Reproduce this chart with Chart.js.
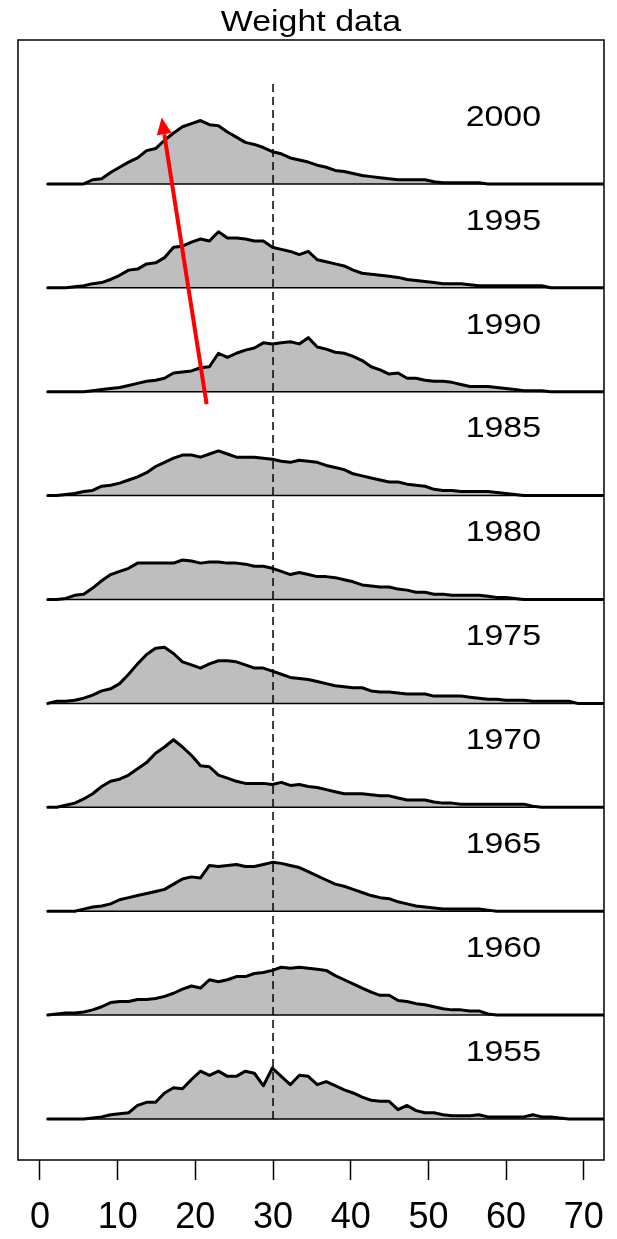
<!DOCTYPE html>
<html>
<head>
<meta charset="utf-8">
<title>Weight data</title>
<script src="https://cdn.jsdelivr.net/npm/chart.js@4.4.1/dist/chart.umd.min.js"></script>
<style>
  html, body { margin: 0; padding: 0; background: #fff; }
  #wrap { width: 617px; height: 1239px; }
</style>
</head>
<body>
<div id="wrap"><canvas id="ridgeChart" width="617" height="1239"></canvas></div>
<script>
// weight grid (x positions of the density estimate)
const weightGrid = [
  1.00, 2.16, 3.31, 4.47, 5.63, 6.78, 7.94, 9.09, 10.25, 11.41,
  12.56, 13.72, 14.88, 16.03, 17.19, 18.34, 19.50, 20.66, 21.81, 22.97,
  24.13, 25.28, 26.44, 27.59, 28.75, 29.91, 31.06, 32.22, 33.38, 34.53,
  35.69, 36.84, 38.00, 39.16, 40.31, 41.47, 42.63, 43.78, 44.94, 46.09,
  47.25, 48.41, 49.56, 50.72, 51.88, 53.03, 54.19, 55.34, 56.50, 57.66,
  58.81, 59.97, 61.13, 62.28, 63.44, 64.59, 65.75, 66.91, 68.06, 69.22,
  70.38, 71.53, 72.69, 73.84
];

// years, bottom to top
const years = [1955, 1960, 1965, 1970, 1975, 1980, 1985, 1990, 1995, 2000];

// density per year (per mille)
const dens1955 = [0,0,0,0,0,1,2,4,5,6, 13,16,16,25,30,29,38,46,42,46, 41,41,46,44,32,49,41,33,42,41,
  33,36,32,28,25,21,18,17,17,9, 13,8,6,6,4,3,3,3,4, 2,2,2,2,2,4,2,2,1,0,0,0,0,0,0];
const dens1960 = [0,1,2,2,3,5,8,12,13,13, 15,15,16,18,21,25,28,26,34,32, 34,37,37,40,41,43,46,45,46,45,
  44,43,38,34,30,26,22,19,19,14, 13,11,10,8,6,5,5,4,4, 1,0,0,0,0,0,0,0,0,0,0,0,0,0,0];
const dens1965 = [0,0,0,0,2,4,5,7,11,13, 15,17,19,21,26,31,33,32,44,43, 44,45,43,43,45,47,46,44,42,38,
  34,30,26,24,21,18,15,13,12,9, 7,5,4,3,2,2,2,2,2, 1,0,0,0,0,0,0,0,0,0,0,0,0,0,0];
const dens1970 = [0,0,2,4,8,13,20,25,27,31, 37,43,52,58,65,58,50,40,39,31, 28,25,23,23,23,22,24,21,22,20,
  19,17,15,13,13,13,12,11,11,9, 7,7,7,5,4,4,3,3,3, 3,3,3,3,3,1,0,0,0,0,0,0,0,0,0];
const dens1975 = [0,2,2,3,5,8,12,14,19,28, 38,47,53,54,48,40,37,34,38,41, 41,40,37,34,34,31,28,25,24,23,
  21,19,17,16,15,15,12,11,11,10, 9,9,9,7,7,7,7,6,5, 4,4,3,3,3,2,2,2,2,2,0,0,0,0,0];
const dens1980 = [0,0,1,4,5,11,18,24,27,30, 35,35,35,35,35,38,37,35,36,36, 35,35,34,32,32,30,27,24,26,24,
  22,22,21,19,17,14,13,12,12,10, 9,7,7,5,5,4,4,4,4, 3,2,2,1,0,0,0,0,0,0,0,0,0,0,0];
const dens1985 = [0,0,1,2,4,5,9,10,12,15, 18,22,28,32,36,39,39,37,40,43, 40,37,37,37,36,35,33,32,34,33,
  32,29,27,25,21,19,17,15,13,13, 11,10,9,6,5,5,4,4,4, 4,3,2,1,0,0,0,0,0,0,0,0,0,0,0];
const dens1990 = [0,0,0,0,0,1,2,3,4,6, 8,10,11,13,18,19,20,23,24,37, 33,37,40,42,47,46,47,48,46,52,
  43,41,38,37,34,30,24,21,17,18, 13,13,11,10,10,9,7,5,5, 5,4,3,2,1,1,1,0,0,0,0,0,0,0,0];
const dens1995 = [0,0,0,1,2,4,5,8,12,17, 18,23,24,29,39,40,44,47,45,54, 48,48,47,45,45,39,37,35,32,35,
  27,25,23,21,17,14,13,12,11,10, 8,7,6,5,4,4,4,3,2, 2,2,2,2,2,2,2,0,0,0,0,0,0,0,0];
const dens2000 = [0,0,0,0,0,4,5,11,16,21, 25,32,34,42,49,55,58,61,57,56, 50,45,40,38,35,31,29,25,23,21,
  18,16,13,12,10,8,7,6,5,4, 4,4,4,2,1,1,1,1,1, 0,0,0,0,0,0,0,0,0,0,0,0,0,0,0];

const densities = [dens1955, dens1960, dens1965, dens1970, dens1975, dens1980, dens1985, dens1990, dens1995, dens2000];

// axis ticks
const xTicks = [0, 10, 20, 30, 40, 50, 60, 70];

// reference weight and trend arrow (weight, row)
const refWeight = 30;
const arrowFrom = [21.45, 6.88];
const arrowTo = [15.66, 9.64];

const ROW = 100;   // per mille of density that fills one row
const FONT = '"Liberation Sans", Arial, Helvetica, sans-serif';

const datasets = [];
years.forEach((yr, k) => {
  datasets.push({
    label: String(yr),
    data: weightGrid.map((w, i) => ({ x: w, y: k + densities[k][i] / ROW })),
    borderColor: '#000',
    borderWidth: 3,
    borderJoinStyle: 'round',
    borderCapStyle: 'round',
    backgroundColor: '#BEBEBE',
    fill: { value: k },
    pointRadius: 0,
    tension: 0,
    order: 3
  });
  datasets.push({
    label: 'base ' + yr,
    data: [{ x: weightGrid[0], y: k }, { x: weightGrid[weightGrid.length - 1], y: k }],
    borderColor: '#000',
    borderWidth: 1.5,
    pointRadius: 0,
    fill: false,
    order: 2
  });
});
datasets.push({
  label: 'reference',
  data: [{ x: refWeight, y: 0 }, { x: refWeight, y: years.length }],
  borderColor: '#000',
  borderWidth: 1.5,
  borderDash: [8, 5],
  pointRadius: 0,
  fill: false,
  order: 1
});

function stretchedText(ctx, text, px, py, align) {
  ctx.save();
  ctx.translate(px, py);
  ctx.scale(1.13, 1);
  ctx.textAlign = align;
  ctx.textBaseline = 'alphabetic';
  ctx.fillText(text, 0, 0);
  ctx.restore();
}

const overlay = {
  id: 'overlay',
  beforeDraw(chart) {
    const ctx = chart.ctx;
    ctx.save();
    ctx.fillStyle = '#fff';
    ctx.fillRect(0, 0, chart.width, chart.height);
    ctx.restore();
  },
  afterDatasetsDraw(chart) {
    const { ctx, chartArea: a, scales: { x, y } } = chart;

    // trend arrow
    const x0 = x.getPixelForValue(arrowFrom[0]), y0 = y.getPixelForValue(arrowFrom[1]);
    const x1 = x.getPixelForValue(arrowTo[0]), y1 = y.getPixelForValue(arrowTo[1]);
    const ang = Math.atan2(y1 - y0, x1 - x0);
    const headLen = 17, headHalf = 7.5;
    const bx = x1 - headLen * Math.cos(ang), by = y1 - headLen * Math.sin(ang);
    ctx.save();
    ctx.strokeStyle = '#FF0000';
    ctx.fillStyle = '#FF0000';
    ctx.lineWidth = 4;
    ctx.beginPath();
    ctx.moveTo(x0, y0);
    ctx.lineTo(bx, by);
    ctx.stroke();
    ctx.beginPath();
    ctx.moveTo(x1, y1);
    ctx.lineTo(bx + headHalf * Math.sin(ang), by - headHalf * Math.cos(ang));
    ctx.lineTo(bx - headHalf * Math.sin(ang), by + headHalf * Math.cos(ang));
    ctx.closePath();
    ctx.fill();
    ctx.restore();

    // year labels
    ctx.save();
    ctx.fillStyle = '#000';
    ctx.font = '30px ' + FONT;
    years.forEach((yr, k) => {
      stretchedText(ctx, String(yr), x.getPixelForValue(64.5), y.getPixelForValue(k + 0.56), 'right');
    });

    // frame
    ctx.strokeStyle = '#000';
    ctx.lineWidth = 1.5;
    ctx.strokeRect(a.left, a.top, a.right - a.left, a.bottom - a.top);

    // title
    stretchedText(ctx, 'Weight data', (a.left + a.right) / 2, 31, 'center');
    ctx.restore();
  }
};

document.addEventListener('DOMContentLoaded', function() {
  const el = document.getElementById('ridgeChart');
  new Chart(el, {
    type: 'line',
    data: { datasets },
    options: {
      responsive: false,
      animation: false,
      devicePixelRatio: 1,
      layout: { padding: { left: 18, right: 13, top: 40, bottom: 0 } },
      plugins: {
        legend: { display: false },
        tooltip: { enabled: false },
        title: { display: false }
      },
      scales: {
        x: {
          type: 'linear',
          min: -2.83,
          max: 72.6,
          afterBuildTicks: (axis) => { axis.ticks = xTicks.map(v => ({ value: v })); },
          afterFit: (axis) => { axis.height = 79; axis.paddingLeft = 0; axis.paddingRight = 0; },
          grid: {
            drawOnChartArea: false,
            drawTicks: true,
            tickLength: 20,
            tickWidth: 1.5,
            tickColor: '#000'
          },
          border: { display: false },
          ticks: {
            autoSkip: false,
            maxRotation: 0,
            padding: 16,
            color: '#000',
            font: { size: 36, family: FONT },
            callback: (v) => String(v)
          }
        },
        y: {
          type: 'linear',
          display: false,
          min: -0.395,
          max: 10.385
        }
      }
    },
    plugins: [overlay]
  });
});
</script>
</body>
</html>
